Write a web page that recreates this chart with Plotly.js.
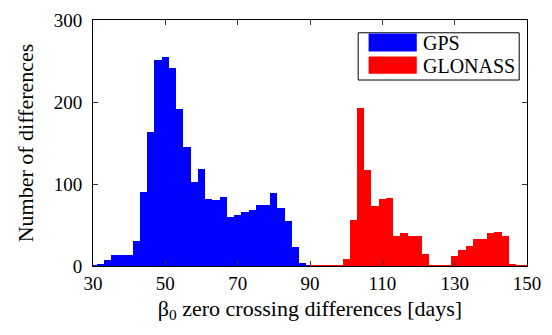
<!DOCTYPE html>
<html>
<head>
<meta charset="utf-8">
<script src="https://cdn.plot.ly/plotly-3.0.1.min.js"></script>
<style>html,body{margin:0;padding:0;background:#fff;}#chart{width:552px;height:335px;}</style>
</head>
<body>
<div id="chart"></div>
<script>
// Histogram bin centres (2-day bins) and counts
const gpsX = [32, 34, 36, 38, 40, 42, 44, 46, 48, 50, 52, 54, 56, 58, 60, 62, 64, 66, 68, 70, 72, 74, 76, 78, 80, 82, 84, 86, 88];
const gpsY = [2, 7, 13, 13, 13, 31, 90, 164, 251, 255, 241, 192, 145, 103, 118, 82, 80, 84, 60, 62, 66, 68, 75, 74, 89, 71, 55, 23, 4];
const glonassX = [100, 102, 104, 106, 108, 110, 112, 114, 116, 118, 120, 122, 124, 126, 128, 130, 132, 134, 136, 138, 140, 142, 144, 146];
const glonassY = [9, 56, 193, 117, 73, 82, 83, 37, 40, 37, 37, 15, 0, 0, 0, 12, 20, 25, 33, 33, 40, 42, 36, 2];
const gpsRange = [30, 90];
const glonassRange = [90, 150];
const binWidth = 2;
const xTicks = [30, 50, 70, 90, 110, 130, 150];
const yTicks = [0, 100, 200, 300];
const seriesNames = ["GPS", "GLONASS"];
const seriesColors = ["#0000FF", "#FF0000"];

const font = "Liberation Serif";

const traces = [
  {type: "bar", name: seriesNames[0], x: gpsX, y: gpsY, width: binWidth,
   marker: {color: seriesColors[0], line: {width: 0}}, showlegend: false},
  {type: "bar", name: seriesNames[1], x: glonassX, y: glonassY, width: binWidth,
   marker: {color: seriesColors[1], line: {width: 0}}, showlegend: false}
];

const shapes = [
  {type: "line", xref: "x", yref: "y", x0: gpsRange[0], x1: gpsRange[1], y0: 0, y1: 0, line: {color: seriesColors[0], width: 2}},
  {type: "line", xref: "x", yref: "y", x0: glonassRange[0], x1: glonassRange[1], y0: 0, y1: 0, line: {color: seriesColors[1], width: 2}},
  // legend box
  {type: "rect", xref: "paper", yref: "paper", x0: 0.611, x1: 0.982, y0: 0.756, y1: 0.948, line: {color: "#000", width: 1}, fillcolor: "#fff", layer: "above"},
  {type: "rect", xref: "paper", yref: "paper", x0: 0.635, x1: 0.746, y0: 0.872, y1: 0.945, line: {width: 0}, fillcolor: seriesColors[0], layer: "above"},
  {type: "rect", xref: "paper", yref: "paper", x0: 0.635, x1: 0.746, y0: 0.781, y1: 0.852, line: {width: 0}, fillcolor: seriesColors[1], layer: "above"}
];

const annotations = [
  {xref: "paper", yref: "paper", x: 0.755, y: 0.908, xanchor: "left", yanchor: "middle", text: seriesNames[0], showarrow: false, font: {family: font, size: 20, color: "#000"}},
  {xref: "paper", yref: "paper", x: 0.755, y: 0.815, xanchor: "left", yanchor: "middle", text: seriesNames[1], showarrow: false, font: {family: font, size: 20, color: "#000"}}
];

const layout = {
  width: 552, height: 335,
  margin: {l: 93, r: 25, t: 20, b: 69, pad: 0},
  paper_bgcolor: "#fff", plot_bgcolor: "#fff",
  bargap: 0,
  font: {family: font, size: 19, color: "#000"},
  xaxis: {
    range: [30, 150], tickvals: xTicks, ticktext: xTicks.map(String),
    ticks: "inside", ticklen: 5, tickcolor: "#333", mirror: "allticks",
    showline: true, linecolor: "#000", linewidth: 1, showgrid: false, zeroline: false,
    tickfont: {family: font, size: 19}, ticklabelstandoff: 0,
    title: {text: "β<sub>0</sub> zero crossing differences [days]", font: {family: font, size: 22}, standoff: 7}
  },
  yaxis: {
    range: [0, 300], tickvals: yTicks, ticktext: yTicks.map(String),
    ticks: "inside", ticklen: 5, tickcolor: "#333", mirror: "allticks",
    showline: true, linecolor: "#000", linewidth: 1, showgrid: false, zeroline: false,
    tickfont: {family: font, size: 19}, ticklabelstandoff: 6,
    title: {text: "Number of differences", font: {family: font, size: 22}, standoff: 14}
  },
  shapes: shapes,
  annotations: annotations,
  showlegend: false
};

Plotly.newPlot("chart", traces, layout, {displayModeBar: false, staticPlot: true});
</script>
</body>
</html>
